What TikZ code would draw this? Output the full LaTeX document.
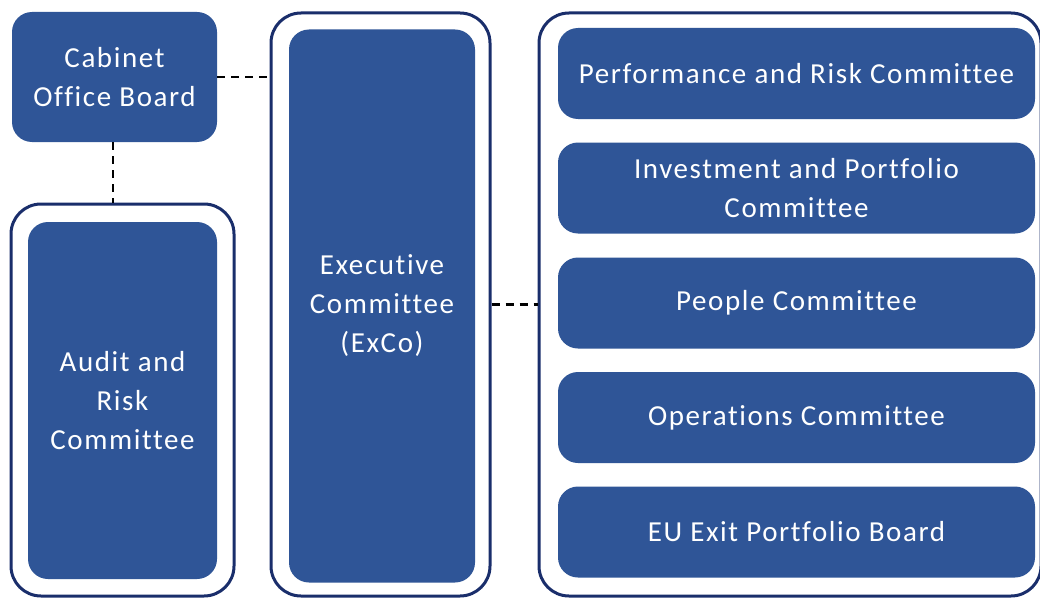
\documentclass[tikz,border=0pt]{standalone}
\usepackage{fontspec}
\setmainfont{Carlito}[LetterSpace=5.5,Ligatures={NoCommon}]
\definecolor{boxblue}{HTML}{2F5597}
\definecolor{framenavy}{HTML}{1A2E6B}
\begin{document}
\begin{tikzpicture}[x=1pt,y=-1pt,
  box/.style={fill=boxblue, draw=none, rounded corners=20pt, text=white, align=center, inner sep=0pt,
    font=\fontsize{29}{39}\selectfont},
  frame/.style={draw=framenavy, line width=3pt, fill=white, rounded corners=30pt, inner sep=0pt},
  link/.style={draw=black, line width=2.5pt, dash pattern=on 8pt off 6pt}]
\useasboundingbox (0,0) rectangle (1040,599);
\begin{scope}
\clip (0,0) rectangle (1040,599);
% frames
\node[frame, minimum width=223pt, minimum height=392pt] (arcframe) at (122.5,400) {};
\node[frame, minimum width=219pt, minimum height=583pt] (excoframe) at (380.5,304.5) {};
\node[frame, minimum width=502pt, minimum height=583pt] (rightframe) at (790,304.5) {};
% boxes
\node[box, minimum width=205pt, minimum height=130pt] (cob) at (114.5,77) {Cabinet\\Office Board};
\node[box, minimum width=189pt, minimum height=357pt] (arc) at (122.5,400.5) {Audit and\\Risk\\Committee};
\node[box, minimum width=186pt, minimum height=553pt] (exco) at (382,306) {Executive\\Committee\\(ExCo)};
\node[box, minimum width=477pt, minimum height=91pt] (prc) at (796.5,73.5) {Performance and Risk Committee};
\node[box, minimum width=477pt, minimum height=91pt] (ipc) at (796.5,188) {Investment and Portfolio\\Committee};
\node[box, minimum width=477pt, minimum height=91pt] (pc) at (796.5,303) {People Committee};
\node[box, minimum width=477pt, minimum height=91pt] (oc) at (796.5,417.5) {Operations Committee};
\node[box, minimum width=477pt, minimum height=91pt] (eu) at (796.5,532) {EU Exit Portfolio Board};
% connectors
\draw[link] (cob.east) -- (cob.east -| excoframe.west);
\draw[link] ([xshift=-1.5pt]cob.south) -- ([xshift=-1.5pt]cob.south |- arcframe.north);
\draw[link] (excoframe.east) -- (excoframe.east -| rightframe.west);
\end{scope}
\end{tikzpicture}
\end{document}
